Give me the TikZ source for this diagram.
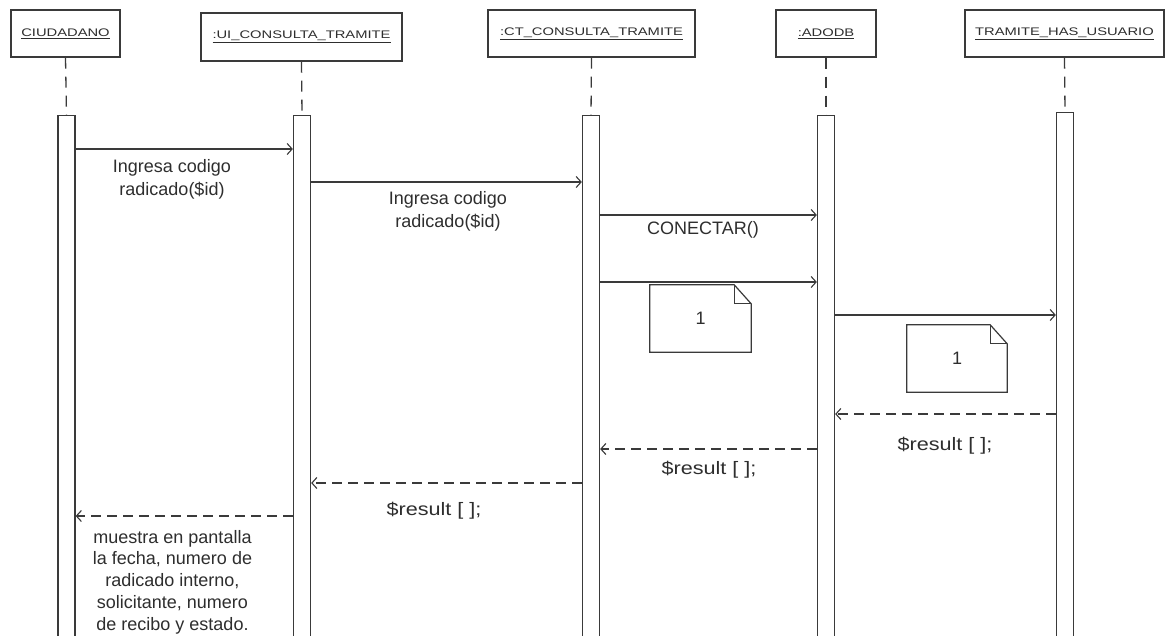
\documentclass[tikz,border=0pt]{standalone}
\usepackage{fontspec}
\setmainfont{Liberation Sans}
\newfontfamily\hdrfont{Liberation Sans}[FakeStretch=1.34]
\usetikzlibrary{arrows.meta}
\definecolor{ln}{HTML}{3A3A3A}
\definecolor{tx}{HTML}{2E2E2E}
\tikzset{
  hdr/.style={draw=ln, line width=1.4pt, rectangle, inner sep=0pt, text=tx,
    font=\hdrfont\fontsize{11}{13}\selectfont},
  life/.style={draw=ln, line width=1.3pt, dash pattern=on 11pt off 8pt},
  actbar/.style={draw=ln, line width=1.3pt, rectangle, fill=white, minimum width=17pt, minimum height=540pt, anchor=north, inner sep=0pt},
  msg/.style={draw=ln, line width=1.1pt, -{Straight Barb[length=5pt,width=11pt,line width=1.1pt]}},
  ret/.style={msg, dash pattern=on 10pt off 6pt},
  lbl/.style={inner sep=0pt, text=tx, font=\fontsize{18}{22.5}\selectfont, align=center},
  notebox/.style={inner sep=0pt, text=tx, font=\fontsize{18}{22}\selectfont, minimum width=101pt, minimum height=67pt},
  noteline/.style={draw=ln, line width=1.2pt, line join=miter}
}
\begin{document}
\begin{tikzpicture}[x=1pt,y=-1pt]
\useasboundingbox (0,0) rectangle (1173,636);
\clip (0,0) rectangle (1173,636);
\fill[white] (0,0) rectangle (1173,636);
% headers
\node[hdr, minimum width=109pt, minimum height=47pt] (hC) at (65.5,33.5) {\underline{CIUDADANO}};
\node[hdr, minimum width=201pt, minimum height=48pt] (hUI) at (301.5,37) {\underline{:UI\_CONSULTA\_TRAMITE}};
\node[hdr, minimum width=207pt, minimum height=47pt] (hCT) at (591.5,33.5) {\underline{:CT\_CONSULTA\_TRAMITE}};
\node[hdr, minimum width=100pt, minimum height=47pt] (hAD) at (826,33.5) {\underline{:ADODB}};
\node[hdr, minimum width=199pt, minimum height=47pt] (hTH) at (1064.5,33.5) {\underline{TRAMITE\_HAS\_USUARIO}};
% activation bars
\node[actbar] (bC) at (66.5,115) {};
\node[actbar] (bUI) at (302,115) {};
\node[actbar] (bCT) at (591,115) {};
\node[actbar] (bAD) at (826,115) {};
\node[actbar] (bTH) at (1065,112) {};
% lifelines
\draw[life] (hC.south) -- (bC.north);
\draw[life] (hUI.south) -- (bUI.north);
\draw[life] (hCT.south) -- (bCT.north);
\draw[life] (hAD.south) -- (bAD.north);
\draw[life] (hTH.south) -- (bTH.north);
% message levels
\coordinate (m1) at (0,149);
\coordinate (m2) at (0,182);
\coordinate (m3) at (0,215);
\coordinate (m4) at (0,282);
\coordinate (m5) at (0,315);
\coordinate (m6) at (0,414);
\coordinate (m7) at (0,449);
\coordinate (m8) at (0,483);
\coordinate (m9) at (0,516);
% messages
\draw[msg] (bC.east |- m1) -- (bUI.west |- m1);
\draw[msg] (bUI.east |- m2) -- (bCT.west |- m2);
\draw[msg] (bCT.east |- m3) -- (bAD.west |- m3);
\draw[msg] (bCT.east |- m4) -- (bAD.west |- m4);
\draw[msg] (bAD.east |- m5) -- (bTH.west |- m5);
\draw[ret] (bTH.west |- m6) -- (bAD.east |- m6);
\draw[ret] (bAD.west |- m7) -- (bCT.east |- m7);
\draw[ret] (bCT.west |- m8) -- (bUI.east |- m8);
\draw[ret] (bUI.west |- m9) -- (bC.east |- m9);
% labels
\node[lbl, anchor=north] (l1) at (172,159.5) {Ingresa codigo\\radicado(\$id)};
\node[lbl, anchor=north] (l2) at (448,191.5) {Ingresa codigo\\radicado(\$id)};
\node[lbl, anchor=base] (l3) at (703,235) {CONECTAR()};
\node[lbl, anchor=base] (l6) at (945,450) {\scalebox{1.2}[1]{\$result [ ];}};
\node[lbl, anchor=base] (l7) at (709,474) {\scalebox{1.2}[1]{\$result [ ];}};
\node[lbl, anchor=base] (l8) at (434,515) {\scalebox{1.2}[1]{\$result [ ];}};
\node[lbl, anchor=north, font=\fontsize{18}{21.7}\selectfont] (l9) at (172.5,530) {muestra en pantalla\\la fecha, numero de\\radicado interno,\\solicitante, numero\\de recibo y estado.};
% notes
\node[notebox] (n1) at (700.5,318.5) {\raisebox{-5pt}{1}};
\draw[noteline] (n1.north west) -- ([xshift=-17pt]n1.north east) -- ([yshift=-19pt]n1.north east) -- (n1.south east) -- (n1.south west) -- cycle;
\draw[noteline] ([xshift=-17pt]n1.north east) -- ([xshift=-17pt,yshift=-19pt]n1.north east) -- ([yshift=-19pt]n1.north east);
\node[notebox, minimum width=100pt] (n2) at (957,358.5) {\raisebox{-5pt}{1}};
\draw[noteline] (n2.north west) -- ([xshift=-17pt]n2.north east) -- ([yshift=-19pt]n2.north east) -- (n2.south east) -- (n2.south west) -- cycle;
\draw[noteline] ([xshift=-17pt]n2.north east) -- ([xshift=-17pt,yshift=-19pt]n2.north east) -- ([yshift=-19pt]n2.north east);
\end{tikzpicture}
\end{document}
